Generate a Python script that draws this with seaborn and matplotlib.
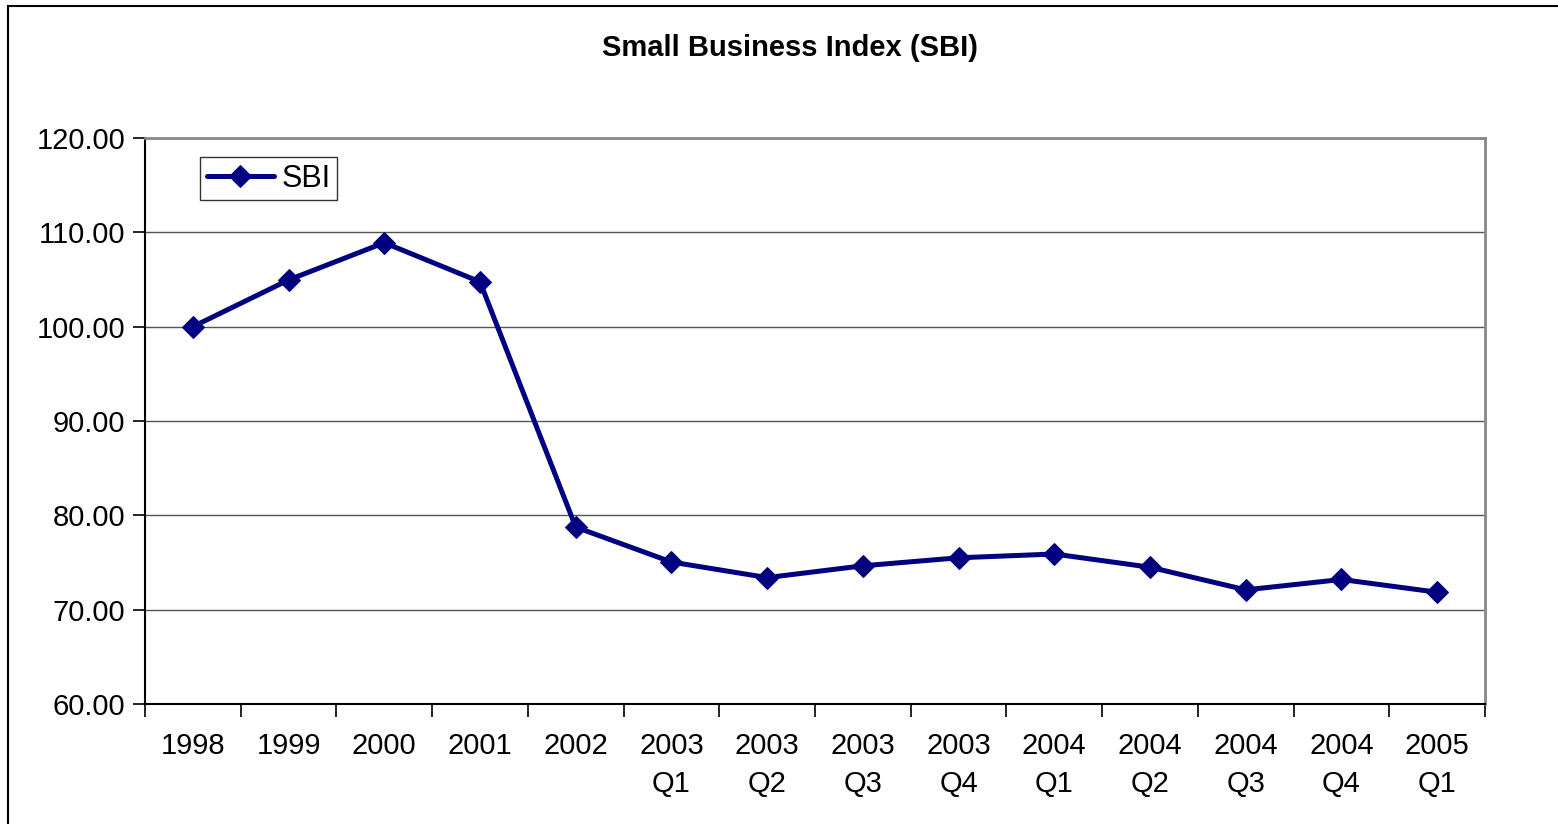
import matplotlib
matplotlib.use("Agg")
import matplotlib.pyplot as plt
import seaborn as sns
import pandas as pd
import numpy as np
from matplotlib.ticker import FixedLocator, NullFormatter
from matplotlib.patches import Rectangle

periods = ["1998", "1999", "2000", "2001", "2002", "2003\nQ1", "2003\nQ2", "2003\nQ3",
           "2003\nQ4", "2004\nQ1", "2004\nQ2", "2004\nQ3", "2004\nQ4", "2005\nQ1"]
sbi = [100.0, 104.95, 108.9, 104.75, 78.75, 75.05, 73.4, 74.65, 75.5, 75.9, 74.5, 72.1, 73.2, 71.85]

df = pd.DataFrame({"pos": np.arange(len(periods)), "SBI": sbi})

sns.set_style("white")
plt.rcParams["font.family"] = ["Liberation Sans", "DejaVu Sans"]
plt.rcParams["text.color"] = "black"
plt.rcParams["xtick.color"] = "black"
plt.rcParams["ytick.color"] = "black"
plt.rcParams["xtick.labelcolor"] = "black"
plt.rcParams["ytick.labelcolor"] = "black"

fig = plt.figure(figsize=(15.58, 8.24), dpi=100)
ax = fig.add_axes([145/1558, 1-704/824, (1485-145)/1558, (704-138)/824])

sns.lineplot(data=df, x="pos", y="SBI", ax=ax, color="#000080", linewidth=3.6,
             marker="D", markersize=11.5, markeredgecolor="#000080", label="SBI")

ax.set_xlim(-0.5, len(periods) - 0.5)
ax.set_ylim(60, 120)
ax.set_yticks(np.arange(60, 121, 10))
ax.set_yticklabels([f"{v:.2f}" for v in np.arange(60, 121, 10)], fontsize=21, color="black")
ax.yaxis.grid(True, color="#555555", linewidth=1.0)
ax.set_axisbelow(True)

ax.set_xticks(np.arange(len(periods)))
ax.set_xticklabels(periods, fontsize=21, linespacing=1.45, color="black")
ax.tick_params(axis="x", which="major", length=0, pad=20)
ax.xaxis.set_minor_locator(FixedLocator(np.arange(-0.5, len(periods), 1.0)))
ax.xaxis.set_minor_formatter(NullFormatter())
ax.tick_params(axis="x", which="minor", length=9, width=1.2, color="black", direction="out", bottom=True)
ax.tick_params(axis="y", which="major", length=9, width=1.2, color="black", direction="out", left=True, pad=5)

ax.set_xlabel("")
ax.set_ylabel("")
for s in ["left", "bottom"]:
    ax.spines[s].set_color("black")
    ax.spines[s].set_linewidth(1.5)
for s in ["top", "right"]:
    ax.spines[s].set_color("#888888")
    ax.spines[s].set_linewidth(2.0)

leg = ax.legend(loc="upper left", bbox_to_anchor=((200-145)/1340, 1-(157-138)/566),
                frameon=True, fancybox=False, fontsize=22, handlelength=2.2,
                handletextpad=0.25, borderpad=0.22, borderaxespad=0)
leg.get_frame().set_edgecolor("black")
leg.get_frame().set_linewidth(1.0)
for t in leg.get_texts():
    t.set_color("black")

fig.text(790/1558, 1-48/824, "Small Business Index (SBI)", ha="center", va="center",
         fontsize=21, fontweight="bold", color="black")

fig.patches.append(Rectangle((8/1558, -0.1), 1.2, 1.1-6/824, transform=fig.transFigure,
                             fill=False, edgecolor="black", linewidth=1.5))

fig.savefig("out.png", dpi=100)
